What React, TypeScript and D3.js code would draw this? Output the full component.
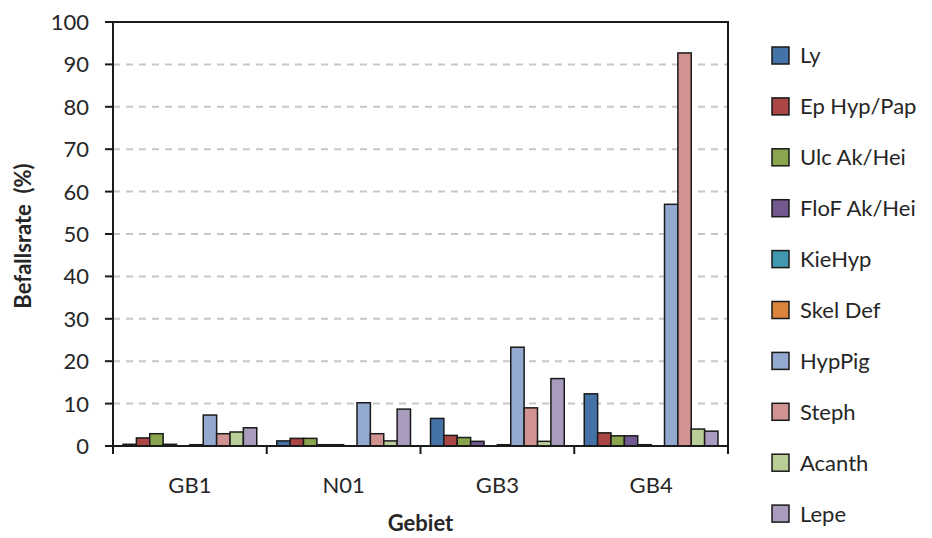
import React from 'react';
import * as d3 from 'd3';

// data
const categories = ['GB1', 'N01', 'GB3', 'GB4'];
const seriesNames = ['Ly', 'Ep Hyp/Pap', 'Ulc Ak/Hei', 'FloF Ak/Hei', 'KieHyp', 'Skel Def', 'HypPig', 'Steph', 'Acanth', 'Lepe'];
const seriesColors = ['#4572A7', '#AA4643', '#89A54E', '#71588F', '#4198AF', '#DB843D', '#93A9CF', '#D19392', '#B9CD96', '#A99BBD'];
// one array per series, values per category (GB1, N01, GB3, GB4)
const ly = [0.4, 1.2, 6.5, 12.3];
const epHyp = [1.9, 1.8, 2.5, 3.1];
const ulc = [2.9, 1.8, 2.0, 2.4];
const floF = [0.4, 0.3, 1.1, 2.4];
const kieHyp = [0, 0.3, 0, 0.3];
const skelDef = [0.3, 0, 0.3, 0];
const hypPig = [7.3, 10.2, 23.3, 57.0];
const steph = [2.9, 2.9, 9.0, 92.7];
const acanth = [3.3, 1.2, 1.1, 4.0];
const lepe = [4.3, 8.7, 15.9, 3.5];
const seriesValues = [ly, epHyp, ulc, floF, kieHyp, skelDef, hypPig, steph, acanth, lepe];
const yTicks = [0, 10, 20, 30, 40, 50, 60, 70, 80, 90, 100];

const W = 932;
const H = 538;
const margin = { top: 22, right: 204, bottom: 92, left: 113 };
const FONT = 'Lato, "Open Sans", sans-serif';
const TEXT = '#262626';

export default function App() {
  const plotW = W - margin.left - margin.right;
  const plotH = H - margin.top - margin.bottom;

  const x0 = d3.scaleBand().domain(categories).range([0, plotW]);
  const x1 = d3.scaleBand()
    .domain(seriesNames)
    .range([10, x0.bandwidth() - 10]);
  const y = d3.scaleLinear().domain([0, 100]).range([plotH, 0]);

  return (
    <div style={{ position: 'absolute', left: 0, top: 0 }}>
      <svg width={W} height={H} style={{ display: 'block', background: '#fff' }}>
        <g transform={`translate(${margin.left},${margin.top})`}>
          {/* gridlines */}
          {yTicks.filter(t => t > 0 && t < 100).map(t => (
            <line key={'g' + t} x1={0} x2={plotW} y1={y(t)} y2={y(t)}
              stroke="#c8c8c8" strokeWidth={2} strokeDasharray="7 6" />
          ))}

          {/* bars */}
          {categories.map((c, ci) => (
            <g key={c} transform={`translate(${x0(c)},0)`}>
              {seriesNames.map((s, si) => {
                const v = seriesValues[si][ci];
                if (!v) return null;
                return (
                  <rect key={s} x={x1(s)} y={y(v)} width={x1.bandwidth()} height={plotH - y(v)}
                    fill={seriesColors[si]} stroke="#1a1a1a" strokeWidth={1.5} />
                );
              })}
            </g>
          ))}

          {/* frame */}
          <rect x={0} y={0} width={plotW} height={plotH} fill="none" stroke="#1a1a1a" strokeWidth={2} />

          {/* y axis ticks + labels */}
          {yTicks.map(t => (
            <g key={'y' + t} transform={`translate(0,${y(t)})`}>
              <line x1={-8} x2={0} stroke="#1a1a1a" strokeWidth={2} />
              <text x={-24} dy="0.36em" textAnchor="end" fontFamily={FONT} fontSize={22} fill={TEXT}>{t}</text>
            </g>
          ))}

          {/* x axis ticks + labels */}
          {[...categories.map(c => x0(c) as number), plotW].map((xx, i) => (
            <line key={'xt' + i} x1={xx} x2={xx} y1={plotH} y2={plotH + 8} stroke="#1a1a1a" strokeWidth={2} />
          ))}
          {categories.map(c => (
            <text key={'xl' + c} x={(x0(c) as number) + x0.bandwidth() / 2} y={plotH + 47}
              textAnchor="middle" fontFamily={FONT} fontSize={22} fill={TEXT}>{c}</text>
          ))}

          {/* axis titles */}
          <text x={plotW / 2} y={plotH + 85} textAnchor="middle" fontFamily={FONT}
            fontSize={22} fontWeight="bold" fill={TEXT}>Gebiet</text>
          <text transform={`translate(${-margin.left + 31},${214}) rotate(-90)`} textAnchor="middle"
            fontFamily={FONT} fontSize={22} fontWeight="bold" fill={TEXT} style={{ whiteSpace: 'pre' }}>
            {'Befallsrate  (%)'}
          </text>
        </g>

        {/* legend */}
        {seriesNames.map((s, i) => {
          const cy = 55.5 + i * 50.9;
          return (
            <g key={'lg' + s}>
              <rect x={772} y={cy - 8.5} width={17} height={17} fill={seriesColors[i]} stroke="#1a1a1a" strokeWidth={1.5} />
              <text x={800} y={cy} dy="0.36em" fontFamily={FONT} fontSize={22} fill={TEXT}>{s}</text>
            </g>
          );
        })}
      </svg>
    </div>
  );
}
